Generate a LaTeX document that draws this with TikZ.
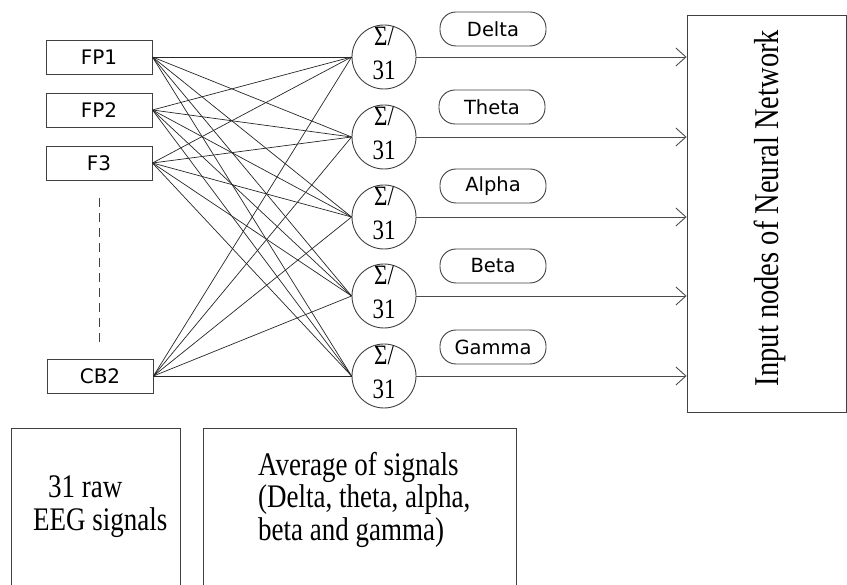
\documentclass[tikz,border=0pt]{standalone}
\usepackage{graphicx}
\usepackage{fontspec}
\setmainfont{Liberation Serif}
\newfontfamily\labfont{DejaVu Sans}
\usetikzlibrary{arrows.meta}
\newcommand{\tallbox}[1]{\scalebox{1}[1.22]{#1}}
\begin{document}
\begin{tikzpicture}[x=1pt,y=-1pt,
  ln/.style={draw=black!75, line width=0.9pt},
  chan/.style={ln, rectangle, minimum width=106pt, minimum height=34pt, inner sep=0pt, font=\labfont\fontsize{20}{22}\selectfont},
  avg/.style={ln, circle, minimum size=64pt, inner sep=0pt},
  avgtxt/.style={inner sep=0pt, font=\fontsize{23}{27.9}\selectfont},
  band/.style={ln, rectangle, rounded corners=16pt, minimum width=106pt, minimum height=34pt, inner sep=0pt, font=\labfont\fontsize{19.5}{22}\selectfont},
  wire/.style={draw=black!85, line width=0.7pt},
  arr/.style={draw=black!70, line width=0.9pt, -{Straight Barb[length=10pt,width=18pt]}},
  big/.style={font=\fontsize{27}{26.6}\selectfont, inner sep=0pt},
]
\useasboundingbox (0,0) rectangle (847,585);

% channel boxes
\node[chan] (fp1) at (99,57) {FP1};
\node[chan] (fp2) at (99,110) {FP2};
\node[chan] (f3)  at (99,163) {F3};
\node[chan] (cb2) at (100,376) {CB2};
\coordinate (d1) at (99,198);
\coordinate (d2) at (99,342);
\draw[ln, dash pattern=on 9pt off 6pt] (d1) -- (d2);

% averaging circles
\foreach \i/\y in {1/57,2/137,3/217,4/296,5/376}{
  \node[avg] (c\i) at (384,\y) {};
  \node[avgtxt] (t\i) at (384,\y-1) {\tallbox{\begin{tabular}{@{}c@{}}Σ/\\31\end{tabular}}};
}

% band labels
\node[band] (delta) at (493,29)  {Delta};
\node[band] (theta) at (492,107) {Theta};
\node[band] (alpha) at (493,186) {Alpha};
\node[band] (beta)  at (493,266) {Beta};
\node[band] (gamma) at (493,347) {Gamma};

% connections
\foreach \s in {fp1,fp2,f3,cb2}{
  \foreach \i in {1,...,5}{
    \draw[wire] (\s.east) -- (c\i.west);
  }
}

% neural network box
\node[ln, rectangle, minimum width=159pt, minimum height=397pt, inner sep=0pt] (nn) at (766.5,213.5) {};
\node[big, font=\fontsize{28.5}{30}\selectfont, rotate=90] (nnt) at (770,208) {\tallbox{Input nodes of Neural Network}};

\foreach \i in {1,...,5}{
  \draw[arr] (c\i.east) -- (c\i.east -| nn.west);
}

% bottom boxes
\draw[ln] (11,586) -- (11,428) -- (180,428) -- (180,586);
\draw[ln] (203,586) -- (203,428) -- (516,428) -- (516,586);
\node[big, anchor=west] (raw) at (33,507.5) {\tallbox{\begin{tabular}{@{}l@{}}\hspace{15pt}31 raw\\EEG signals\end{tabular}}};
\node[big, anchor=west] (avgt) at (258,501) {\tallbox{\begin{tabular}{@{}l@{}}Average of signals\\(Delta, theta, alpha,\\beta and gamma)\end{tabular}}};
\end{tikzpicture}
\end{document}
